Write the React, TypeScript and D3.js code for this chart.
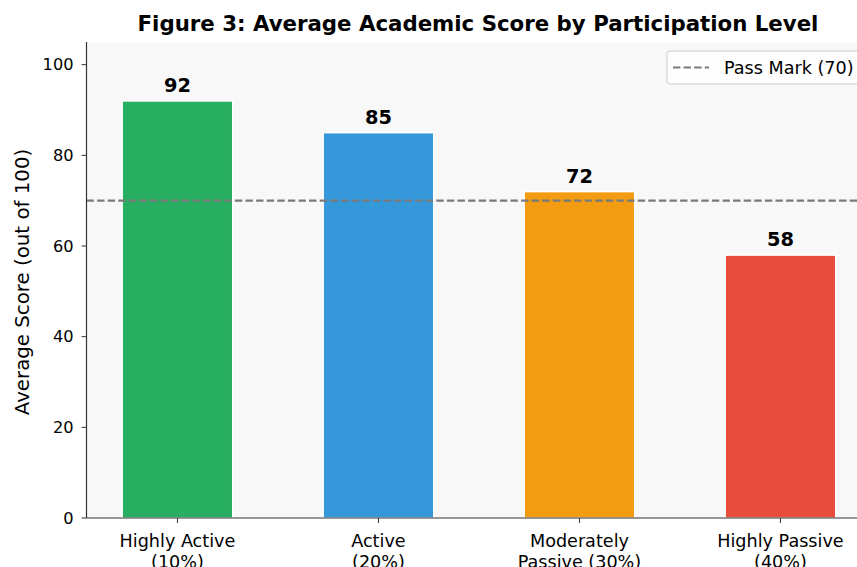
import React from "react";
import * as d3 from "d3";

const categories = ["Highly Active\n(10%)", "Active\n(20%)", "Moderately\nPassive (30%)", "Highly Passive\n(40%)"];
const scores = [92, 85, 72, 58];
const colors = ["#27ae60", "#3498db", "#f39c12", "#e74c3c"];
const yTicks = [0, 20, 40, 60, 80, 100];
const passMark = 70;

const W = 857, H = 567;
const left = 86.5, top = 42, bottom = 518;
const barWidth = 0.55;

export default function App() {
  const x = d3.scaleLinear().domain([-0.4525, 3.4525]).range([left, left + 3.905 * 201]);
  const y = d3.scaleLinear().domain([0, 105]).range([bottom, top]);
  const font = "'DejaVu Sans', sans-serif";
  const plotRight = x(3.4525);
  return (
    <svg width={W} height={H} style={{ position: "absolute", left: 0, top: 0 }} fontFamily={font}>
      <rect x={0} y={0} width={W} height={H} fill="#fff" />
      <rect x={left} y={top} width={plotRight - left} height={bottom - top} fill="#f8f8f8" />
      <text x={478} y={31} textAnchor="middle" fontSize={21.3} fontWeight="bold">Figure 3: Average Academic Score by Participation Level</text>
      {scores.map((v, i) => (
        <g key={i}>
          <rect x={x(i - barWidth / 2)} y={y(v)} width={x(i + barWidth / 2) - x(i - barWidth / 2)} height={bottom - y(v)}
            fill={colors[i]} stroke="#fff" strokeWidth={1.5} />
          <text x={x(i)} y={y(v) - 9} textAnchor="middle" fontSize={19.4} fontWeight="bold">{v}</text>
        </g>
      ))}
      <line x1={left} x2={plotRight} y1={y(passMark)} y2={y(passMark)} stroke="#7a7a7a" strokeWidth={2.2} strokeDasharray="7.4,3.2" />
      {yTicks.map(t => (
        <g key={t}>
          <line x1={left - 5} x2={left} y1={y(t)} y2={y(t)} stroke="#333" strokeWidth={1} />
          <text x={left - 13} y={y(t)} dy="0.35em" textAnchor="end" fontSize={16.2}>{t}</text>
        </g>
      ))}
      {categories.map((c, i) => (
        <g key={i}>
          <line x1={x(i)} x2={x(i)} y1={bottom} y2={bottom + 5} stroke="#333" strokeWidth={1} />
          {c.split("\n").map((ln, j) => (
            <text key={j} x={x(i)} y={bottom + 28.5 + j * 21} textAnchor="middle" fontSize={17.6}>{ln}</text>
          ))}
        </g>
      ))}
      <line x1={left} x2={left} y1={top} y2={bottom} stroke="#333" strokeWidth={1.2} />
      <line x1={left} x2={plotRight} y1={bottom} y2={bottom} stroke="#333" strokeWidth={1.2} />
      <text transform={`translate(29,${(top + bottom) / 2 + 2}) rotate(-90)`} textAnchor="middle" fontSize={19.8}>Average Score (out of 100)</text>
      <g>
        <rect x={667} y={51} width={210} height={33} rx={3} fill="#fff" fillOpacity={0.8} stroke="#ccc" strokeWidth={1} />
        <line x1={673} x2={709} y1={67.5} y2={67.5} stroke="#7a7a7a" strokeWidth={2.2} strokeDasharray="7.4,3.2" />
        <text x={724} y={67.5} dy="0.35em" fontSize={17.6}>Pass Mark (70)</text>
      </g>
    </svg>
  );
}
